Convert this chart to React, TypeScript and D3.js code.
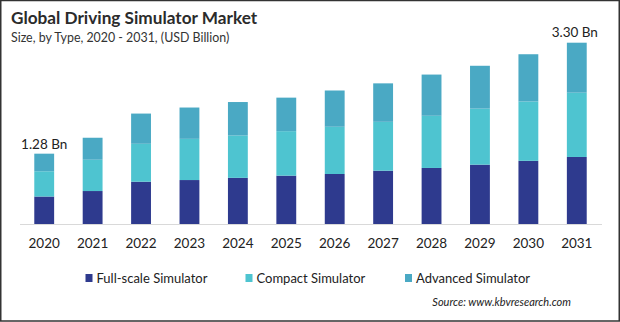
import React from "react";
import * as d3 from "d3";

const years = ["2020","2021","2022","2023","2024","2025","2026","2027","2028","2029","2030","2031"];
const fullScale = [0.50,0.60,0.77,0.80,0.84,0.88,0.91,0.97,1.02,1.08,1.15,1.22];
const compact = [0.46,0.57,0.69,0.75,0.77,0.81,0.86,0.89,0.95,1.02,1.08,1.17];
const advanced = [0.32,0.40,0.55,0.57,0.61,0.61,0.66,0.70,0.75,0.78,0.86,0.91];
const seriesNames = ["Full-scale Simulator","Compact Simulator","Advanced Simulator"];
const colors = ["#2E3A8E","#4EC4D0","#4AA9C4"];
const endLabels = ["1.28 Bn","3.30 Bn"];

const W = 620, H = 322;
const font = "Lato, 'Open Sans', sans-serif";

export default function App() {
  const rows = years.map((y, i) => ({ year: y, a: fullScale[i], b: compact[i], c: advanced[i] }));
  const stack = d3.stack<any>().keys(["a","b","c"])(rows);
  const x = d3.scaleBand().domain(years).range([20, 601]).paddingInner(0.59).paddingOuter(0.295);
  const y = d3.scaleLinear().domain([0, 3.30]).range([224, 42.7]);
  const totals = rows.map(r => r.a + r.b + r.c);
  const legendX = [85.5, 245.5, 405];
  return (
    <svg width={W} height={H} style={{ position: "absolute", left: 0, top: 0, background: "#fff" }} fontFamily={font}>
      <rect x={0} y={0} width={W} height={H} fill="#fff" />
      <text x={11} y={24} fontSize={17.2} fontWeight={700} fill="#2b2b2b">Global Driving Simulator Market</text>
      <text x={11} y={42} fontSize={12.4} fill="#333">Size, by Type,  2020 - 2031, (USD Billion)</text>
      {stack.map((s, si) => (
        <g key={si} fill={colors[si]}>
          {s.map((d, i) => (
            <rect key={i} x={x(years[i])} width={x.bandwidth()} y={y(d[1])} height={y(d[0]) - y(d[1])} />
          ))}
        </g>
      ))}
      <line x1={20} x2={602} y1={224.5} y2={224.5} stroke="#d9d9d9" strokeWidth={1} />
      {years.map((yr) => (
        <text key={yr} x={x(yr)! + x.bandwidth() / 2} y={248} fontSize={13.5} textAnchor="middle" fill="#222">{yr}</text>
      ))}
      <text x={x(years[0])! + x.bandwidth() / 2} y={y(totals[0]) - 5} fontSize={13.5} textAnchor="middle" fill="#222">{endLabels[0]}</text>
      <text x={x(years[11])! + x.bandwidth() / 2 - 2} y={y(totals[11]) - 6} fontSize={13.5} textAnchor="middle" fill="#222">{endLabels[1]}</text>
      {seriesNames.map((n, i) => (
        <g key={n}>
          <rect x={legendX[i]} y={274} width={7} height={8} fill={colors[i]} />
          <text x={legendX[i] + 11} y={283} fontSize={13} fill="#222">{n}</text>
        </g>
      ))}
      <text x={571} y={306} fontSize={11} fontStyle="italic" textAnchor="end" fill="#222">Source: www.kbvresearch.com</text>
      <rect x={0.75} y={0.5} width={W - 1.5} height={H - 1.5} fill="none" stroke="#333" strokeWidth={1.5} />
    </svg>
  );
}
